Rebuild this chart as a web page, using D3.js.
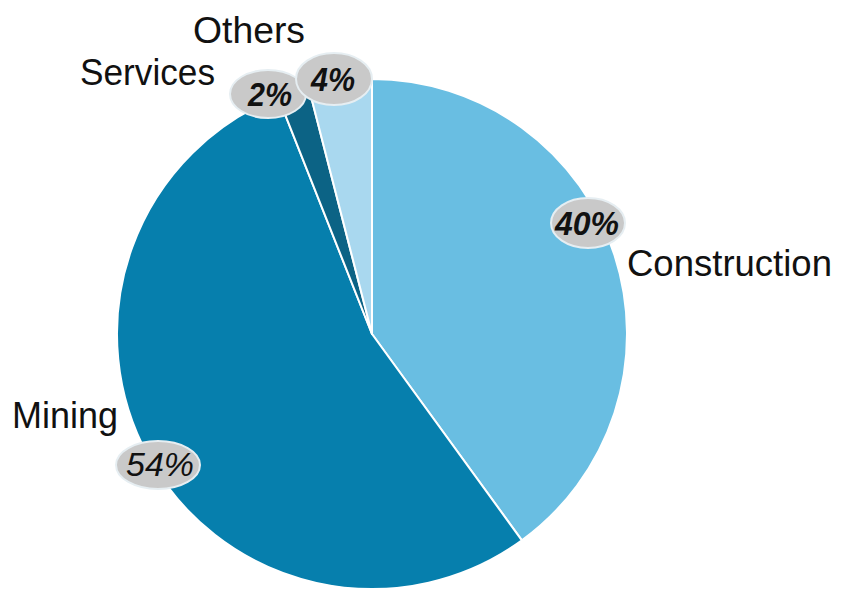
<!DOCTYPE html>
<html><head><meta charset="utf-8">
<script src="https://cdn.jsdelivr.net/npm/d3@7"></script>
<style>html,body{margin:0;padding:0;background:#fff;}svg{display:block;}</style>
</head><body>
<svg id="chart" width="845" height="589"></svg>
<script>
const categories = ["Construction", "Mining", "Services", "Others"];
const values = [40, 54, 2, 4];
const percentLabels = ["40%", "54%", "2%", "4%"];
const colors = ["#69bee2", "#067fad", "#0c6385", "#a9d8ef"];

// layout (annotation placement)
const center = [372, 334], radius = 255;
const bubbles = [
  {cx: 588, cy: 223, rx: 37, ry: 25, tx: 587, ty: 235, w: 64, weight: "bold"},
  {cx: 158, cy: 465, rx: 42, ry: 24, tx: 160, ty: 476, w: 68, weight: "normal"},
  {cx: 268, cy: 94, rx: 38, ry: 24, tx: 270, ty: 106, w: 44, weight: "bold"},
  {cx: 334, cy: 79, rx: 38, ry: 26, tx: 333, ty: 91, w: 44, weight: "bold"}
];
const names = [
  {x: 627, y: 276, w: 205},
  {x: 12, y: 428, w: 106},
  {x: 80, y: 85, w: 135},
  {x: 193, y: 43, w: 112}
];

const svg = d3.select("#chart");
const pie = d3.pie().sort(null).value(d => d)(values);
const arc = d3.arc().innerRadius(0).outerRadius(radius);
const g = svg.append("g").attr("transform", `translate(${center})`);
g.selectAll("path").data(pie).join("path")
  .attr("d", arc)
  .attr("fill", (d, i) => colors[i])
  .attr("stroke", "#ffffff")
  .attr("stroke-width", 2)
  .attr("stroke-linejoin", "round");

svg.selectAll("text.name").data(categories).join("text")
  .attr("class", "name")
  .attr("x", (d, i) => names[i].x)
  .attr("y", (d, i) => names[i].y)
  .attr("textLength", (d, i) => names[i].w)
  .attr("lengthAdjust", "spacingAndGlyphs")
  .attr("font-family", "Liberation Sans, Arial, sans-serif")
  .attr("font-size", 37.5)
  .attr("fill", "#111")
  .text(d => d);

const bg = svg.selectAll("g.bubble").data(percentLabels).join("g").attr("class", "bubble");
bg.append("ellipse")
  .attr("cx", (d, i) => bubbles[i].cx)
  .attr("cy", (d, i) => bubbles[i].cy)
  .attr("rx", (d, i) => bubbles[i].rx)
  .attr("ry", (d, i) => bubbles[i].ry)
  .attr("fill", "#c9c9c9")
  .attr("stroke", "#e6eef2")
  .attr("stroke-width", 2);
bg.append("text")
  .attr("x", (d, i) => bubbles[i].tx)
  .attr("y", (d, i) => bubbles[i].ty)
  .attr("text-anchor", "middle")
  .attr("textLength", (d, i) => bubbles[i].w)
  .attr("lengthAdjust", "spacingAndGlyphs")
  .attr("font-family", "Liberation Sans, Arial, sans-serif")
  .attr("font-size", 33)
  .attr("font-style", "italic")
  .attr("font-weight", (d, i) => bubbles[i].weight)
  .attr("fill", "#111")
  .text(d => d);
</script>
</body></html>
